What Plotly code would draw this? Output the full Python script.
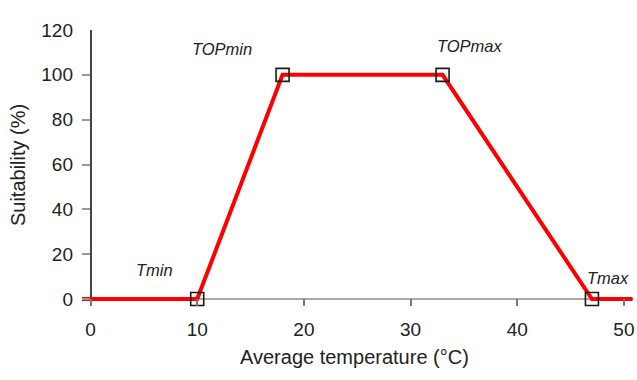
import plotly.graph_objects as go

# Data
line_x = [-0.8, 10, 18, 33, 47, 50.8]
line_y = [0, 0, 100, 100, 0, 0]
pt_x = [10, 18, 33, 47]
pt_y = [0, 100, 100, 0]
labels = ["Tmin", "TOPmin", "TOPmax", "Tmax"]
label_x = [6.0, 12.3, 35.6, 48.5]
label_y = [12.9, 111.5, 112.8, 9.4]
x_ticks = [0, 10, 20, 30, 40, 50]
y_ticks = [0, 20, 40, 60, 80, 100, 120]

FONT = "Liberation Sans, Arial"

fig = go.Figure()
fig.add_trace(go.Scatter(x=line_x, y=line_y, mode="lines",
                         line=dict(color="#ff0000", width=4), hoverinfo="skip"))
fig.add_trace(go.Scatter(x=pt_x, y=pt_y, mode="markers",
                         marker=dict(symbol="square-open", size=13,
                                     color="#1a1a1a", line=dict(width=1.6, color="#1a1a1a")),
                         cliponaxis=False))

for t, x, y in zip(labels, label_x, label_y):
    fig.add_annotation(x=x, y=y, text="<i>" + t + "</i>", showarrow=False,
                       font=dict(family=FONT, size=16.5, color="#222"))

# axis titles
fig.add_annotation(xref="paper", yref="paper", x=0.495, y=-0.185, text="Average temperature (°C)",
                   xanchor="center", yanchor="middle",
                   showarrow=False, font=dict(family=FONT, size=20, color="#222"))
fig.add_annotation(xref="paper", yref="paper", x=-0.116, y=0.511, text="Suitability (%)",
                   xanchor="center", yanchor="middle",
                   textangle=-90, showarrow=False, font=dict(family=FONT, size=20, color="#222"))

fig.update_layout(
    width=637, height=380,
    margin=dict(l=82, r=4, t=30, b=74),
    paper_bgcolor="white", plot_bgcolor="white",
    showlegend=False,
    font=dict(family=FONT, color="#222"),
)
fig.update_xaxes(range=[-0.8, 50.85], tickvals=x_ticks, ticks="inside", ticklen=7,
                 tickcolor="#777", tickwidth=1.5, showgrid=False, showline=False,
                 zeroline=True, zerolinecolor="#444", zerolinewidth=1.5,
                 tickfont=dict(size=19, color="#222"), automargin=False,
                 ticklabelstandoff=10)
fig.update_yaxes(range=[-3.1, 120], tickvals=y_ticks, ticks="inside", ticklen=8,
                 tickcolor="#999", tickwidth=1.5, showgrid=False, showline=False,
                 zeroline=True, zerolinecolor="#aaa", zerolinewidth=2,
                 tickfont=dict(size=19, color="#222"), automargin=False,
                 ticklabelstandoff=8)

fig.write_html("out.html", config={"displayModeBar": False},
               post_script="document.body.style.margin='0';document.body.style.overflow='hidden';")
